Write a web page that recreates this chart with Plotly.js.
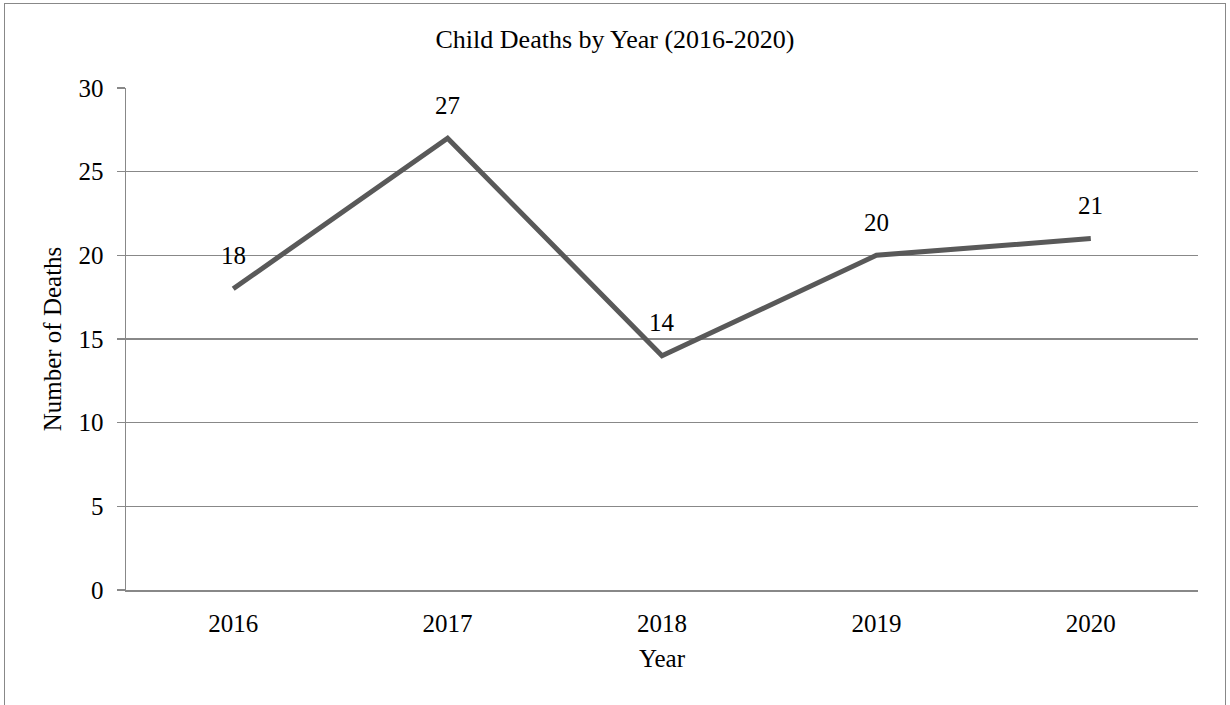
<!DOCTYPE html>
<html>
<head>
<meta charset="utf-8">
<script src="https://cdn.plot.ly/plotly-3.0.1.min.js"></script>
<style>
  html, body { margin: 0; padding: 0; background: #fff; }
  #wrap { position: relative; width: 1230px; height: 705px; overflow: hidden; }
  #frame { position: absolute; left: 4px; top: 3px; width: 1222px; height: 720px; border: 1.5px solid #888; box-sizing: border-box; pointer-events: none; }
  #chart { position: absolute; left: 0; top: 0; width: 1230px; height: 705px; }
</style>
</head>
<body>
<div id="wrap">
  <div id="chart"></div>
  <div id="frame"></div>
</div>
<script>
const years = ['2016', '2017', '2018', '2019', '2020'];
const deaths = [18, 27, 14, 20, 21];
const yTicks = [0, 5, 10, 15, 20, 25, 30];

const font = "'Liberation Serif', 'Times New Roman', serif";

const trace = {
  x: years,
  y: deaths,
  type: 'scatter',
  mode: 'lines',
  line: { color: '#595959', width: 5 },
  hoverinfo: 'x+y'
};

const annotations = years.map((yr, i) => ({
  x: i, y: deaths[i], xref: 'x', yref: 'y',
  text: String(deaths[i]), showarrow: false,
  xanchor: 'center', yanchor: 'middle',
  yshift: 33, font: { family: font, size: 25, color: '#000' }
}));

const layout = {
  width: 1230, height: 705,
  margin: { l: 126, r: 32, t: 88, b: 115 },
  paper_bgcolor: 'rgba(0,0,0,0)',
  plot_bgcolor: '#fff',
  showlegend: false,
  font: { family: font, color: '#000' },
  title: { text: 'Child Deaths by Year (2016-2020)', font: { family: font, size: 26, color: '#000' }, x: 0.5, xanchor: 'center', y: 0.945, yanchor: 'middle' },
  xaxis: {
    type: 'category',
    range: [-0.5, 4.5],
    showgrid: false,
    showline: true, linecolor: '#888', linewidth: 1.5,
    ticks: '',
    ticklabelstandoff: 10,
    tickfont: { family: font, size: 25, color: '#000' },
    title: { text: 'Year', font: { family: font, size: 25, color: '#000' }, standoff: 14 },
    zeroline: false, fixedrange: true
  },
  yaxis: {
    range: [0, 30],
    tickvals: yTicks,
    showgrid: true, gridcolor: '#888', gridwidth: 1.3,
    showline: true, linecolor: '#888', linewidth: 1.5,
    ticks: 'outside', ticklen: 8, tickcolor: '#888', tickwidth: 1.3,
    ticklabelstandoff: 8,
    tickfont: { family: font, size: 25, color: '#000' },
    title: { text: 'Number of Deaths', font: { family: font, size: 25, color: '#000' }, standoff: 10 },
    zeroline: false, fixedrange: true
  },
  annotations: annotations
};

Plotly.newPlot('chart', [trace], layout, { displayModeBar: false, staticPlot: true });
</script>
</body>
</html>
